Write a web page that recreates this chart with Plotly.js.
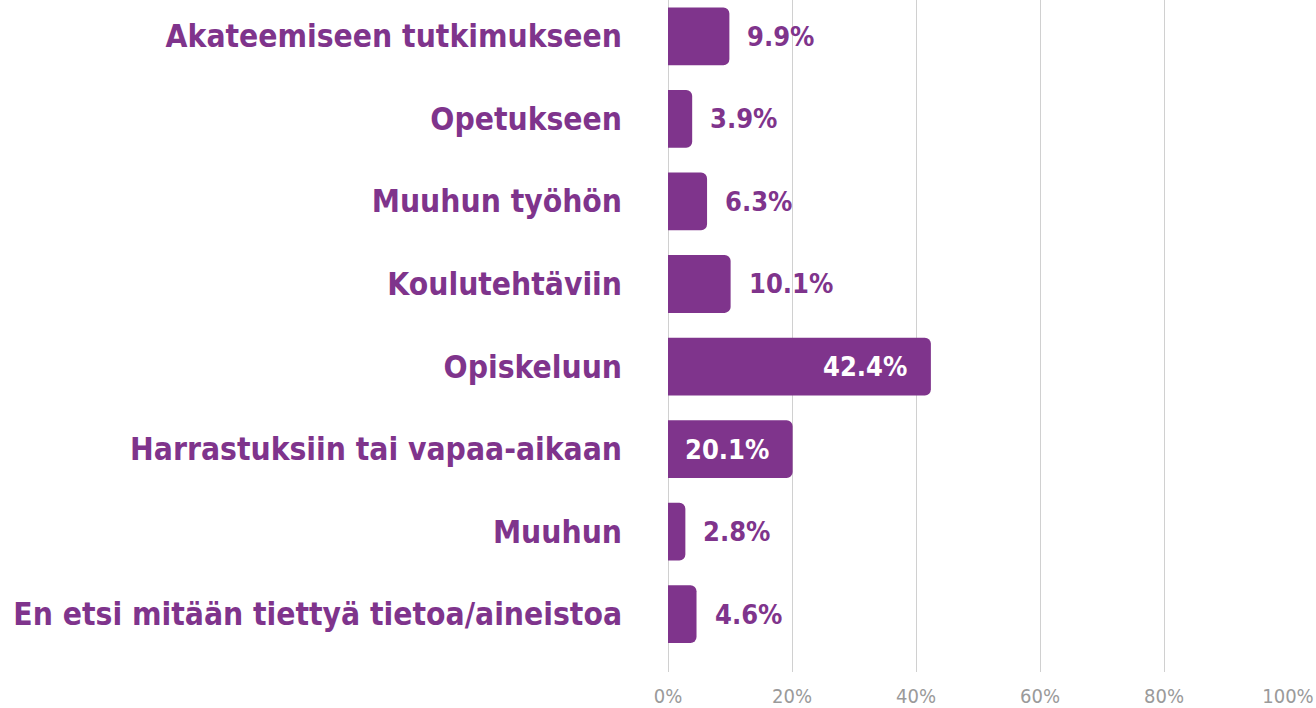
<!DOCTYPE html>
<html><head><meta charset="utf-8">
<script src="https://cdn.plot.ly/plotly-3.0.1.min.js"></script>
<style>body{margin:0;background:#fff}#c{width:1316px;height:708px}</style>
</head><body><div id="c"></div>
<script>
const categories = ["Akateemiseen tutkimukseen","Opetukseen","Muuhun työhön","Koulutehtäviin","Opiskeluun","Harrastuksiin tai vapaa-aikaan","Muuhun","En etsi mitään tiettyä tietoa/aineistoa"];
const values = [9.9, 3.9, 6.3, 10.1, 42.4, 20.1, 2.8, 4.6];
const valueLabels = ["9.9%","3.9%","6.3%","10.1%","42.4%","20.1%","2.8%","4.6%"];
const xTickVals = [0,20,40,60,80,100];
const xTickText = ["0%","20%","40%","60%","80%","100%"];

const purple = '#7f348c';
const font = '"DejaVu Sans Condensed", "Liberation Sans Narrow", "DejaVu Sans", sans-serif';

const annotations = values.map((v,i)=>{
  const inside = v > 15;
  return {x:v, y:categories[i], xref:'x', yref:'y', text:valueLabels[i], showarrow:false,
    xanchor: inside ? 'right' : 'left', xshift: inside ? -22 : 16,
    font:{family:font, size:27, color: inside ? '#ffffff' : purple, weight:'bold'}};
});

Plotly.newPlot('c', [{
  type:'bar', orientation:'h', y:categories, x:values,
  marker:{color:purple, cornerradius:6}, width:0.7, hoverinfo:'none'
}], {
  width:1316, height:708,
  margin:{l:668, r:28, t:0, b:36},
  paper_bgcolor:'#fff', plot_bgcolor:'#fff',
  showlegend:false,
  xaxis:{range:[0,100], tickvals:xTickVals, ticktext:xTickText, showgrid:true, gridcolor:'#d0d0d0', gridwidth:1,
    zeroline:true, zerolinecolor:'#d0d0d0', zerolinewidth:1, showline:false, ticks:'', ticklabelstandoff:10,
    tickfont:{family:font, size:20, color:'#9a9a9a'}, fixedrange:true},
  yaxis:{type:'category', range:[7.7,-0.44], showgrid:false, zeroline:false, showline:false, ticks:'',
    ticklabelstandoff:45, tickfont:{family:font, size:31.5, color:purple, weight:'bold'}, fixedrange:true},
  annotations: annotations
}, {displayModeBar:false, staticPlot:true});
</script></body></html>
